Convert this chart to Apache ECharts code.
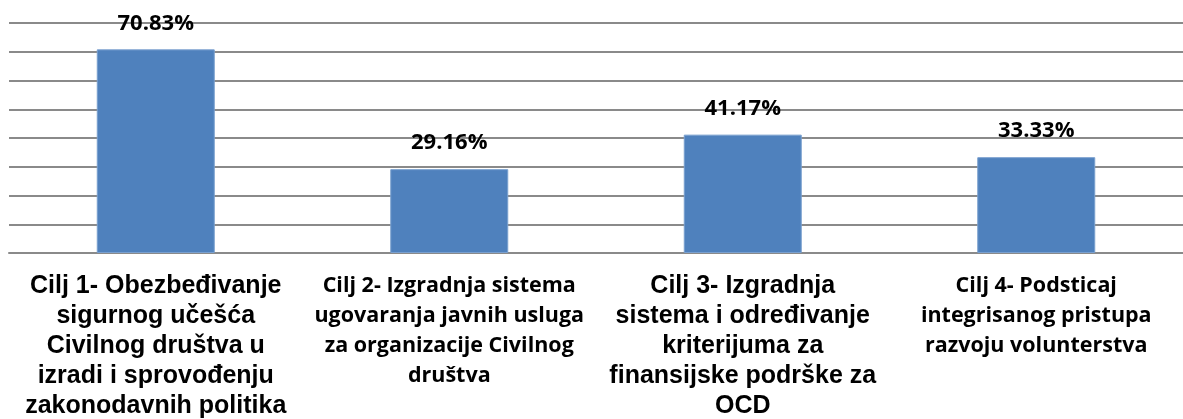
<!DOCTYPE html>
<html>
<head>
<meta charset="utf-8">
<script src="https://cdn.jsdelivr.net/npm/echarts@6/dist/echarts.min.js"></script>
<style>
  html, body { margin: 0; padding: 0; background: #fff; }
  #chart { width: 1183px; height: 419px; }
</style>
</head>
<body>
<div id="chart"></div>
<script>
const categories = [
  'Cilj 1- Obezbeđivanje\nsigurnog učešća\nCivilnog društva u\nizradi i sprovođenju\nzakonodavnih politika',
  'Cilj 2- Izgradnja sistema\nugovaranja javnih usluga\nza organizacije Civilnog\ndruštva',
  'Cilj 3- Izgradnja\nsistema i određivanje\nkriterijuma za\nfinansijske podrške za\nOCD',
  'Cilj 4- Podsticaj\nintegrisanog pristupa\nrazvoju volunterstva'
];
const values = [70.83, 29.16, 41.17, 33.33];
// which label style each category uses (the source mixes two fonts)
const labelStyles = ['a', 'b', 'a', 'b'];

const chart = echarts.init(document.getElementById('chart'));

chart.setOption({
  animation: false,
  grid: { left: 9, top: 23, width: 1189, height: 230, containLabel: false },
  xAxis: {
    type: 'category',
    data: categories,
    axisLine: { lineStyle: { color: '#8a8a8a', width: 2 } },
    axisTick: { show: false },
    axisLabel: {
      interval: 0,
      margin: 18,
      formatter: (val, idx) => {
        const s = labelStyles[idx];
        return val.split('\n').map(l => '{' + s + '|' + l + '}').join('\n');
      },
      rich: {
        a: {
          fontFamily: 'Liberation Sans',
          fontWeight: 'bold',
          fontSize: 25,
          lineHeight: 30,
          color: '#000'
        },
        b: {
          fontFamily: 'Open Sans',
          fontWeight: 'bold',
          fontSize: 21.5,
          lineHeight: 30,
          color: '#000'
        }
      }
    }
  },
  yAxis: {
    type: 'value',
    min: 0,
    max: 80,
    interval: 10,
    axisLabel: { show: false },
    axisLine: { show: false },
    axisTick: { show: false },
    splitLine: { lineStyle: { color: '#8a8a8a', width: 2 } }
  },
  series: [{
    type: 'bar',
    data: values,
    barWidth: 118,
    itemStyle: { color: '#4F81BD', borderColor: '#7aa0cf', borderWidth: 1 },
    label: {
      show: true,
      position: 'top',
      distance: 15,
      formatter: p => p.value.toFixed(2) + '%',
      fontFamily: 'Open Sans',
      fontWeight: 'bold',
      fontSize: 22,
      color: '#000'
    }
  }]
});
</script>
</body>
</html>
